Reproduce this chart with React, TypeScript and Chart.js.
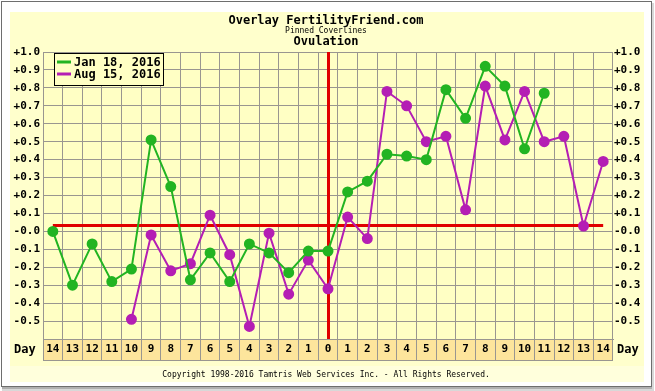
import { useEffect, useRef } from 'react';
import { Chart, registerables } from 'chart.js';

Chart.register(...registerables);

// ---------- data ----------
const DAY_LABELS = [
  '14', '13', '12', '11', '10', '9', '8', '7', '6', '5', '4', '3', '2', '1',
  '0',
  '1', '2', '3', '4', '5', '6', '7', '8', '9', '10', '11', '12', '13', '14',
];

const JAN_18_2016: (number | null)[] = [
  0.0, -0.3, -0.07, -0.28, -0.21, 0.51, 0.25, -0.27, -0.12, -0.28, -0.07, -0.12, -0.23, -0.11,
  -0.11,
  0.22, 0.28, 0.43, 0.42, 0.4, 0.79, 0.63, 0.92, 0.81, 0.46, 0.77, null, null, null,
];

const AUG_15_2016: (number | null)[] = [
  null, null, null, null, -0.49, -0.02, -0.22, -0.18, 0.09, -0.13, -0.53, -0.01, -0.35, -0.16,
  -0.32,
  0.08, -0.04, 0.78, 0.7, 0.5, 0.53, 0.12, 0.81, 0.51, 0.78, 0.5, 0.53, 0.03, 0.39,
];

const SERIES_LABELS = ['Jan 18, 2016', 'Aug 15, 2016'];
const COVERLINE_VALUE = 0.033;
const OVULATION_INDEX = 14;
const Y_MIN = -0.6;
const Y_MAX = 1.0;
const Y_STEP = 0.1;

const TITLE = 'Overlay FertilityFriend.com';
const SUBTITLE = 'Pinned Coverlines';
const SUBTITLE2 = 'Ovulation';
const AXIS_NAME = 'Day';
const FOOTER = 'Copyright 1998-2016 Tamtris Web Services Inc. - All Rights Reserved.';

// ---------- styles ----------
const GREEN = '#22b422';
const MAGENTA = '#b41eb4';
const RED = '#e00000';
const GRID = '#999690';
const PANEL = '#ffffcc';
const PLOT = '#ffffc4';
const STRIP = '#fde59c';
const MONO = '"DejaVu Sans Mono", "Liberation Mono", monospace';
const STRIP_H = 21;

function fmtTick(value: number): string {
  const v = Math.round(value * 10) / 10;
  if (v < -0.55) return '';
  if (v > 0) return '+' + v.toFixed(1);
  return '-' + Math.abs(v).toFixed(1);
}

const decorPlugin = {
  id: 'ffDecor',
  beforeDraw(chart: any) {
    const { ctx, chartArea: a, width, height } = chart;
    ctx.save();
    ctx.fillStyle = '#ffffff';
    ctx.fillRect(0, 0, width, height);
    // frame
    ctx.strokeStyle = '#6e6e6e';
    ctx.lineWidth = 1;
    ctx.strokeRect(1.5, 1.5, 650, 385);
    ctx.fillStyle = '#b0b0b0';
    ctx.fillRect(2, 387, 650, 2);
    ctx.fillStyle = '#d8d8d8';
    ctx.fillRect(2, 389, 652, 2);
    ctx.fillRect(652, 3, 2, 386);
    // panel
    ctx.fillStyle = PANEL;
    ctx.fillRect(10, 12, 634, 370);
    ctx.fillStyle = '#ffffdc';
    ctx.fillRect(10, 366, 634, 16);
    // plot area
    ctx.fillStyle = PLOT;
    ctx.fillRect(a.left, a.top, a.right - a.left, a.bottom - a.top);
    // day strip
    ctx.fillStyle = STRIP;
    ctx.fillRect(a.left, a.bottom, a.right - a.left, STRIP_H);
    ctx.restore();
  },
  beforeDatasetsDraw(chart: any) {
    const { ctx, chartArea: a, scales } = chart;
    const x = Math.round(scales.x.getPixelForValue(OVULATION_INDEX)) + 0.5;
    ctx.save();
    ctx.strokeStyle = RED;
    ctx.lineWidth = 3;
    ctx.beginPath();
    ctx.moveTo(x, a.top);
    ctx.lineTo(x, a.bottom);
    ctx.stroke();
    ctx.restore();
  },
  afterDraw(chart: any) {
    const { ctx, chartArea: a } = chart;
    ctx.save();
    // strip bottom line
    ctx.strokeStyle = GRID;
    ctx.lineWidth = 1;
    ctx.beginPath();
    ctx.moveTo(a.left, a.bottom + STRIP_H + 0.5);
    ctx.lineTo(a.right, a.bottom + STRIP_H + 0.5);
    ctx.stroke();

    ctx.fillStyle = '#000';
    ctx.textAlign = 'center';
    ctx.textBaseline = 'middle';
    const cx = 326;
    ctx.font = `bold 12px ${MONO}`;
    ctx.fillText(TITLE, cx, 21);
    ctx.font = `8px ${MONO}`;
    ctx.fillText(SUBTITLE, cx, 31);
    ctx.font = `bold 12px ${MONO}`;
    ctx.fillText(SUBTITLE2, cx, 42);

    ctx.font = `8px ${MONO}`;
    ctx.fillText(FOOTER, cx, 375);

    // Day labels
    ctx.font = `bold 12px ${MONO}`;
    ctx.textAlign = 'left';
    ctx.fillText(AXIS_NAME, 14, 350);
    ctx.fillText(AXIS_NAME, 617, 350);

    // legend
    const lx = 54, ly = 53, lw = 109, lh = 32;
    ctx.fillStyle = PLOT;
    ctx.fillRect(lx, ly, lw, lh);
    ctx.strokeStyle = '#000';
    ctx.lineWidth = 1;
    ctx.strokeRect(lx + 0.5, ly + 0.5, lw, lh);
    const ds = chart.data.datasets;
    [0, 1].forEach((i) => {
      const y = 62 + i * 12;
      ctx.strokeStyle = ds[i].borderColor;
      ctx.lineWidth = 3;
      ctx.beginPath();
      ctx.moveTo(57, y);
      ctx.lineTo(71, y);
      ctx.stroke();
      ctx.fillStyle = '#000';
      ctx.font = `bold 12px ${MONO}`;
      ctx.textAlign = 'left';
      ctx.fillText(ds[i].label, 74, y + 1);
    });
    ctx.restore();
  },
};

export default function App() {
  const ref = useRef<HTMLCanvasElement | null>(null);

  useEffect(() => {
    if (!ref.current) return;
    const tickFont = { family: MONO, size: 11, weight: 'bold' as const };
    const chart = new Chart(ref.current, {
      type: 'line',
      data: {
        labels: DAY_LABELS,
        datasets: [
          {
            label: SERIES_LABELS[0],
            data: JAN_18_2016,
            borderColor: GREEN,
            backgroundColor: GREEN,
            pointBackgroundColor: GREEN,
            pointBorderColor: GREEN,
            pointRadius: 4.5,
            borderWidth: 2,
            spanGaps: false,
            order: 1,
          },
          {
            label: SERIES_LABELS[1],
            data: AUG_15_2016,
            borderColor: MAGENTA,
            backgroundColor: MAGENTA,
            pointBackgroundColor: MAGENTA,
            pointBorderColor: MAGENTA,
            pointRadius: 4.5,
            borderWidth: 2,
            spanGaps: false,
            order: 2,
          },
          {
            label: 'Coverline',
            data: DAY_LABELS.map(() => COVERLINE_VALUE),
            borderColor: RED,
            borderWidth: 3,
            pointRadius: 0,
            order: 3,
          },
        ],
      },
      options: {
        animation: false,
        responsive: false,
        devicePixelRatio: 1,
        layout: { padding: { top: 52, left: 0, right: 0, bottom: 0 } },
        plugins: {
          legend: { display: false },
          tooltip: { enabled: false },
          title: { display: false },
        },
        scales: {
          x: {
            type: 'category',
            offset: true,
            grid: { offset: true, color: GRID, lineWidth: 1, drawTicks: true, tickLength: STRIP_H },
            border: { display: true, color: GRID },
            ticks: {
              color: '#000',
              font: tickFont,
              padding: -17,
              autoSkip: false,
              maxRotation: 0,
              minRotation: 0,
            },
            afterFit: (s: any) => {
              s.height = 52;
            },
          },
          y: {
            position: 'left',
            min: Y_MIN,
            max: Y_MAX,
            grid: { color: GRID, drawTicks: false },
            border: { display: true, color: GRID },
            ticks: {
              stepSize: Y_STEP,
              color: '#000',
              font: tickFont,
              padding: 3,
              callback: (v: any) => fmtTick(Number(v)),
            },
            afterFit: (s: any) => {
              s.width = 43;
            },
          },
          y2: {
            position: 'right',
            min: Y_MIN,
            max: Y_MAX,
            grid: { display: false, drawTicks: false },
            border: { display: false },
            ticks: {
              stepSize: Y_STEP,
              color: '#000',
              font: tickFont,
              padding: 1,
              callback: (v: any) => fmtTick(Number(v)),
            },
            afterFit: (s: any) => {
              s.width = 42;
            },
          },
        },
      },
      plugins: [decorPlugin],
    });
    return () => chart.destroy();
  }, []);

  return (
    <div style={{ position: 'fixed', left: 0, top: 0, width: 655, height: 391 }}>
      <canvas ref={ref} width={655} height={391} style={{ display: 'block' }} />
    </div>
  );
}
